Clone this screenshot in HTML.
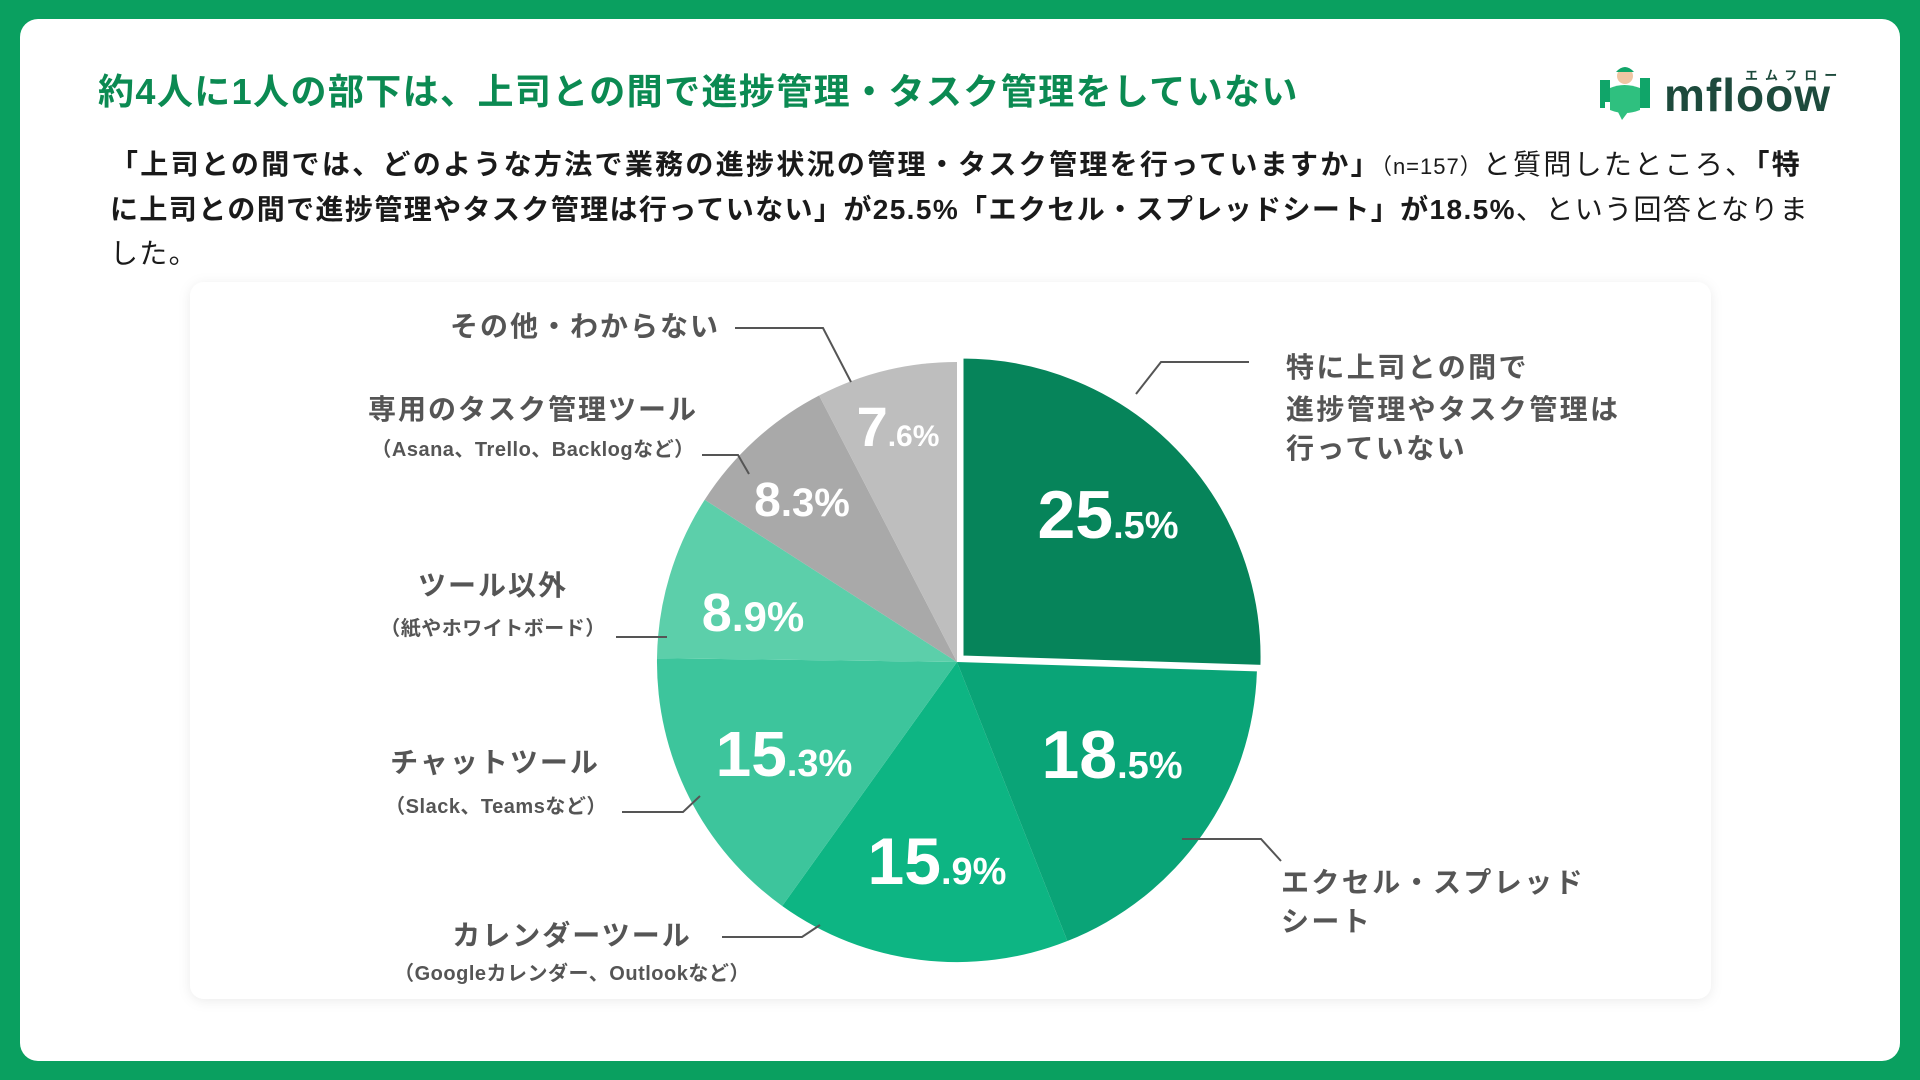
<!DOCTYPE html>
<html><head><meta charset="utf-8"><style>
html,body{margin:0;padding:0;width:1920px;height:1080px;overflow:hidden;background:#0a9f5f;}
svg{display:block}
text{font-family:"Liberation Sans","Noto Sans CJK JP",sans-serif;}
</style></head><body>
<svg width="1920" height="1080" viewBox="0 0 1920 1080" xmlns="http://www.w3.org/2000/svg">
<rect x="0" y="0" width="1920" height="1080" fill="#0aa060"/>
<rect x="20" y="19" width="1880" height="1042" rx="18" fill="#ffffff"/>
<defs><filter id="sh" x="-5%" y="-5%" width="110%" height="110%"><feDropShadow dx="0" dy="2" stdDeviation="6" flood-color="#000" flood-opacity="0.08"/></filter></defs>
<rect x="190" y="282" width="1521" height="717" rx="14" fill="#ffffff" filter="url(#sh)"/>

<text x="98" y="104" font-size="36" font-weight="700" fill="#0b8a52" letter-spacing="1.4">約4人に1人の部下は、上司との間で進捗管理・タスク管理をしていない</text>

<!-- logo -->
<g>
<path d="M1600 80 h10 v22 h-5 v6 h-5z" fill="#10a569"/>
<path d="M1640 78 h10 v30 h-10z" fill="#10a569"/>
<path d="M1610 88 q14 -6 30 0 v22 q-15 6 -30 0z" fill="#2fc07f"/>
<path d="M1618 112 l4 8 l6 -8z" fill="#2fc07f"/>
<circle cx="1625" cy="76" r="8" fill="#f0c6a3"/>
<path d="M1616 72 q9 -10 18 0 z" fill="#10a569"/>
<text x="1664" y="111" font-size="46" font-weight="800" fill="#1d4a3c" letter-spacing="1">mfloow</text>
<text x="1745" y="80" font-size="13" font-weight="700" fill="#1d4a3c" letter-spacing="7">エムフロー</text>
</g>

<!-- paragraph -->
<g font-size="28" fill="#1a1a1a" font-weight="700">
<text x="110" y="174" letter-spacing="2.3">「上司との間では、どのような方法で業務の進捗状況の管理・タスク管理を行っていますか」<tspan font-size="22" font-weight="400" letter-spacing="1">（n=157）</tspan><tspan font-weight="400">と質問したところ、</tspan>「特</text>
<text x="110" y="219" letter-spacing="1.4">に上司との間で進捗管理やタスク管理は行っていない」が25.5%「エクセル・スプレッドシート」が18.5%<tspan font-weight="400">、という回答となりま</tspan></text>
<text x="110" y="263" font-weight="400" letter-spacing="1.3">した。</text>
</g>

<!-- pie -->
<g>
<path d="M957 662 L1067.4 941 A300 300 0 0 1 782.2 906 Z" fill="#0db583"/>
<path d="M957 662 L1256.9 671.4 A300 300 0 0 1 1067.4 941 Z" fill="#0aa477"/>
<path d="M957 662 L782.2 906 A300 300 0 0 1 657 658.2 Z" fill="#3dc59c"/>
<path d="M957 662 L657 658.2 A300 300 0 0 1 704.7 499.7 Z" fill="#5ccfaa"/>
<path d="M957 662 L704.7 499.7 A300 300 0 0 1 819.1 395.5 Z" fill="#a9a9a9"/>
<path d="M957 662 L819.1 395.5 A300 300 0 0 1 957 362 Z" fill="#bebebe"/>
<path d="M962 657 L962 357 A300 300 0 0 1 1261.9 666.4 Z" fill="#06845a" stroke="#fff" stroke-width="3"/>
</g>

<g fill="#fff" font-weight="700" text-anchor="middle">
<text x="1108" y="538" font-size="68">25<tspan font-size="38">.5%</tspan></text>
<text x="1112" y="778" font-size="68">18<tspan font-size="38">.5%</tspan></text>
<text x="937" y="884" font-size="66">15<tspan font-size="38">.9%</tspan></text>
<text x="784" y="776" font-size="64">15<tspan font-size="38">.3%</tspan></text>
<text x="753" y="631" font-size="54">8<tspan font-size="42">.9%</tspan></text>
<text x="802" y="516" font-size="48">8<tspan font-size="40">.3%</tspan></text>
<text x="898" y="446" font-size="56">7<tspan font-size="30">.6%</tspan></text>
</g>

<!-- leader lines -->
<g stroke="#555" stroke-width="2" fill="none">
<polyline points="735,328 823,328 851,382"/>
<polyline points="702,455 738,455 749,474"/>
<polyline points="616,637 667,637"/>
<polyline points="622,812 683,812 700,796"/>
<polyline points="722,937 802,937 820,925"/>
<polyline points="1136,394 1161,362 1249,362"/>
<polyline points="1182,839 1261,839 1281,861"/>
</g>

<!-- labels -->
<g fill="#555" font-weight="700" text-anchor="middle" letter-spacing="2">
<text x="585" y="336" font-size="28">その他・わからない</text>
<text x="533" y="419" font-size="28">専用のタスク管理ツール</text>
<text x="533" y="456" font-size="20" letter-spacing="0.5">（Asana、Trello、Backlogなど）</text>
<text x="493" y="595" font-size="28">ツール以外</text>
<text x="493" y="635" font-size="20" letter-spacing="0.5">（紙やホワイトボード）</text>
<text x="495" y="772" font-size="28">チャットツール</text>
<text x="496" y="813" font-size="20" letter-spacing="0.5">（Slack、Teamsなど）</text>
<text x="572" y="945" font-size="28">カレンダーツール</text>
<text x="572" y="980" font-size="20" letter-spacing="0.5">（Googleカレンダー、Outlookなど）</text>
</g>
<g fill="#555" font-weight="700" font-size="28" letter-spacing="2.4">
<text x="1286" y="377">特に上司との間で</text>
<text x="1286" y="419">進捗管理やタスク管理は</text>
<text x="1286" y="458">行っていない</text>
<text x="1281" y="892">エクセル・スプレッド</text>
<text x="1281" y="931">シート</text>
</g>
</svg>
</body></html>
